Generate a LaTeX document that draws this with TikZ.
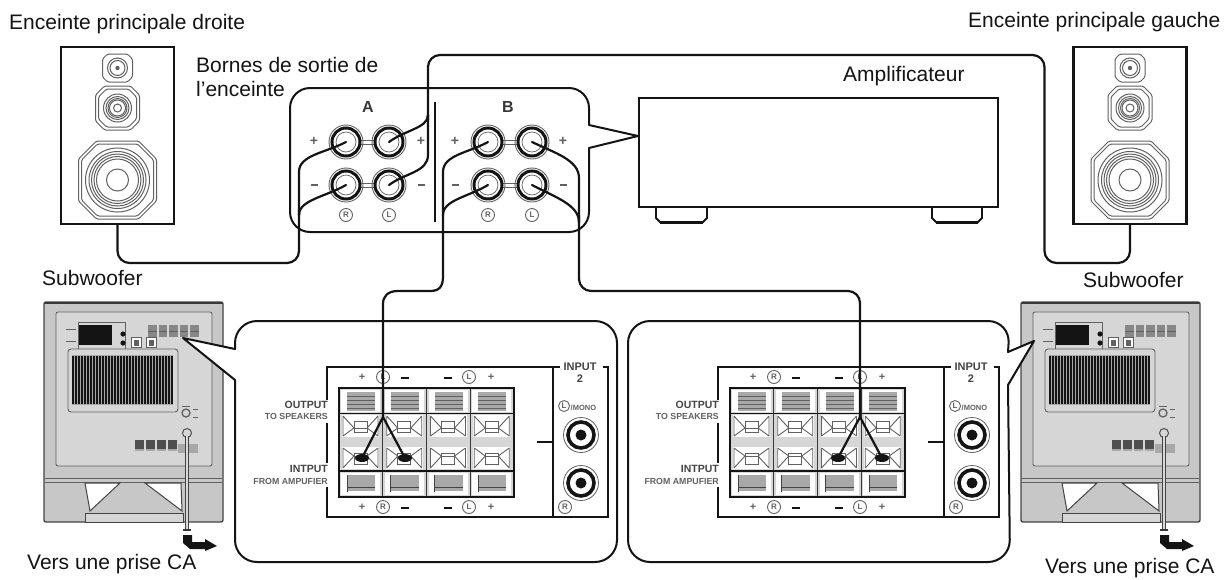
\documentclass[tikz,border=0pt]{standalone}
\usepackage{fontspec}
\setmainfont{Liberation Sans}
\usetikzlibrary{calc,shapes.geometric}
\definecolor{ink}{gray}{0.08}
\definecolor{mid}{gray}{0.38}
\definecolor{body}{gray}{0.78}
\definecolor{face}{gray}{0.84}
\definecolor{strip}{gray}{0.66}
\tikzset{
  lab/.style={anchor=base west,inner sep=0pt,font=\fontsize{21}{23}\selectfont,text=ink},
  wire/.style={draw=ink,line width=2.2pt,line join=round,line cap=round},
  panel/.style={draw=ink,line width=2pt,fill=white,line join=round},
  cone/.style={draw=mid,line width=1pt},
  tiny/.style={inner sep=0pt,text=mid,font=\fontsize{8}{8}\selectfont\bfseries},
  ring/.style={circle,draw=mid,line width=0.9pt,inner sep=0pt,minimum size=13pt,text=mid,font=\fontsize{8}{8}\selectfont\bfseries},
  sign/.style={inner sep=0pt,text=mid,font=\fontsize{14}{14}\selectfont\bfseries},
  smallsign/.style={sign,font=\fontsize{11}{11}\selectfont\bfseries},
  bold/.style={inner sep=0pt,text=mid!70!black,font=\fontsize{10.5}{11}\selectfont\bfseries},
  term/.style={circle,draw=ink,line width=3pt,minimum size=28pt,inner sep=0pt,fill=white},
  post/.style={ellipse,fill=ink,inner sep=0pt,minimum width=14pt,minimum height=8pt},
}
\newcommand{\octa}[5]{% cx cy halfw halfh cut
  \draw[cone,rounded corners=1.5pt] (#1-#3,#2-#4+#5) -- (#1-#3+#5,#2-#4) -- (#1+#3-#5,#2-#4) -- (#1+#3,#2-#4+#5) -- (#1+#3,#2+#4-#5) -- (#1+#3-#5,#2+#4) -- (#1-#3+#5,#2+#4) -- (#1-#3,#2+#4-#5) -- cycle;}
\newcommand{\speaker}[2]{% name, centre x
  \node[draw=ink,line width=2.4pt,minimum width=113pt,minimum height=177pt,inner sep=0pt] (#1) at (#2,135.5) {};
  \octa{#2}{68}{15}{14}{5}
  \draw[cone] (#2,68) circle (10);
  \draw[cone] (#2,68) circle (7.5);
  \fill[mid] (#2,68) circle (2.2);
  \octa{#2}{108}{22}{22}{9}
  \octa{#2}{108}{19}{19}{8}
  \foreach \r in {14,11.5,9.5,8,4}{\draw[cone] (#2,108) circle (\r);}
  \octa{#2}{180}{39}{39}{18}
  \octa{#2}{180}{36}{36}{16}
  \foreach \r in {32,28.5,26,23.5,21,11}{\draw[cone] (#2,180) circle (\r);}
}
\newcommand{\terminal}[3]{% name x y
  \draw[mid,line width=0.9pt] (#2,#3) circle (17);
  \node[term] (#1) at (#2,#3) {};
  \draw[mid,line width=0.7pt] (#2,#3) circle (10);
}
\newcommand{\subwoofer}[2]{% name, dx
\begin{scope}[shift={(#2,0)}]
  \node[draw=mid!70!black,line width=1.4pt,fill=body,minimum width=179pt,minimum height=220pt,inner sep=0pt,rounded corners=2pt] (#1) at (133.5,412) {};
  \draw[ink!85,line width=2.6pt] (45,303) -- (222,303);
  \draw[mid,fill=face,line width=0.9pt,rounded corners=2pt] (56,312) rectangle (212,466);
  \fill[ink] (78,325) rectangle (112,345);
  \draw[mid,line width=0.6pt] (78,322) -- (125,322) -- (125,349) -- (78,349) -- cycle;
  \draw[mid,line width=0.8pt] (66,329) -- (76,329) (66,341) -- (76,341);
  \fill[ink] (123,334) circle (2.6) (123,343) circle (2.6);
  \foreach \x in {136,151}{\draw[mid,fill=white] (\x-5,337) rectangle (\x+5,347); \fill[mid] (\x-2.5,340) rectangle (\x+2.5,346);}
  \foreach \x in {148,158.5,169,179.5,190}{\fill[strip!80!black] (\x,325) rectangle (\x+8.5,337);}
  \foreach \x in {148,158.5,169,179.5,190}{\draw[mid,line width=0.5pt] (\x,331) -- (\x+8.5,331);}
  \draw[mid,fill=face,line width=0.9pt,rounded corners=3pt] (68,349) rectangle (178,412);
  \fill[strip] (72,355) rectangle (173,405);
  \foreach \x in {73,76,...,172}{\draw[ink,line width=1.5pt] (\x,356) -- (\x,404);}
  \draw[mid,line width=1.3pt] (186,413) circle (4);
  \draw[mid,line width=0.6pt] (182,406) -- (190,406) (193,409) -- (198,409) (193,417) -- (198,417);
  \foreach \x in {135,146,157,168}{\fill[mid!80!black] (\x,440) rectangle (\x+8.5,449); \fill[strip] (\x,449) rectangle (\x+8.5,451);}
  \foreach \x in {178,189}{\fill[strip] (\x,444) rectangle (\x+9,453);}
  \draw[mid,line width=1pt] (45,478) -- (222,478) (45,482) -- (222,482);
  \draw[ink!80,line width=1pt,fill=white] (85,483) -- (120,483) -- (90,511) -- cycle;
  \draw[ink!80,line width=1pt,fill=white] (145,483) -- (181,483) -- (182,511) -- cycle;
  \draw[ink!80,line width=1pt,fill=face] (85,513) rectangle (183,522);
  \draw[ink!75,line width=1pt] (187,433) circle (4.5);
  \draw[ink!80,line width=3.2pt] (187,436) -- (187,530);
  \draw[body!70!white,line width=1.1pt] (187,436) -- (187,530);
  \draw[ink!85,line width=1.2pt] (183,530) -- (191,530);
  \fill[ink] (183,535) -- (192,535) -- (192,542) -- (205,542) -- (205,539) -- (217,546) -- (205,551) -- (205,549) -- (190,549) -- (183,543) -- cycle;
\end{scope}}
\newcommand{\block}[2]{% name, dx: terminal block with its labels
\begin{scope}[shift={(#2,0)},name prefix=#1-]
  \fill[face] (339,388) rectangle (514,497);
  \foreach \i in {0,1,2,3}{
    \pgfmathsetmacro{\c}{339+43.75*\i}
    \fill[white] (\c+2,390) rectangle (\c+41,412);
    \fill[strip] (\c+8,392) rectangle (\c+36,411);
    \foreach \yy in {396,400,...,408}{\draw[mid,line width=0.4pt] (\c+8,\yy) -- (\c+36,\yy);}
    \fill[white] (\c+2,473) rectangle (\c+41,495);
    \fill[strip] (\c+8,475) rectangle (\c+36,491);
    \draw[ink!80,line width=0.9pt] (\c+8,487) -- (\c+36,487) (\c+8,475) -- (\c+8,492);
    \foreach \yt/\yb/\ym in {415/437/428,447/469/456}{
      \fill[white] (\c+3,\yt) rectangle (\c+40,\yb);
      \draw[mid,line width=0.9pt] (\c+4,\yt+1) -- (\c+15,\ym) (\c+39,\yt+1) -- (\c+28,\ym)
        (\c+4,\yb-1) -- (\c+15,\ym) (\c+39,\yb-1) -- (\c+28,\ym)
        (\c+4,\yt+1) -- (\c+4,\yb-1) (\c+39,\yt+1) -- (\c+39,\yb-1);
      \draw[mid,line width=0.8pt,fill=white] (\c+15,\yt+6) rectangle (\c+28,\yb-5);
      \draw[mid,line width=0.6pt] (\c+15,\ym) -- (\c+28,\ym);
    }
  }
  \foreach \i in {1,2,3}{\draw[ink!85,line width=1.4pt] (339+43.75*\i,388) -- (339+43.75*\i,497);}
  \draw[ink,line width=1.2pt] (339,413.5) -- (514,413.5) (339,471) -- (514,471);
  \draw[ink,line width=2pt] (339,388) rectangle (514,497);
  \draw[ink,line width=1.8pt] (327,400) -- (327,367) -- (560,367) (603,367) -- (608,367) -- (608,517) -- (327,517) -- (327,487) (327,423) -- (327,463);
  \draw[ink,line width=1.8pt] (553,367) -- (553,517) (537,442) -- (553,442);
  \foreach \yy in {377,507}{
    \node[smallsign] (pa\yy) at (362,\yy) {+};
    \draw[ink,line width=1.1pt] (401,\yy+1) -- (409,\yy+1) (444,\yy+1) -- (452,\yy+1);
    \node[smallsign] (pb\yy) at (491,\yy) {+};
    \node[ring] (cl\yy) at (469,\yy) {L};
  }
  \draw[mid,line width=0.8pt] (581,435) circle (17.5) (581,483) circle (17.5);
  \foreach \yy in {435,483}{
    \draw[ink,line width=3.6pt] (581,\yy) circle (13);
    \fill[ink] (581,\yy) circle (5.5);
  }
  \node[ring] (jr) at (565,507) {R};
  \node[bold,align=center,font=\fontsize{11}{12.5}\selectfont\bfseries] (inp) at (580,372.5) {INPUT\\2};
  \node[ring,minimum size=11pt,anchor=east] (jl) at (570,406) {L};
  \node[tiny,anchor=west,font=\fontsize{7.5}{8}\selectfont\bfseries] (mono) at (570.5,407.5) {/MONO};
  \node[bold,anchor=east] (o1) at (328,405) {OUTPUT};
  \node[tiny,anchor=east,font=\fontsize{8.8}{9}\selectfont\bfseries] (o2) at (328,416) {TO SPEAKERS};
  \node[bold,anchor=east] (i1) at (328,469) {INTPUT};
  \node[tiny,anchor=east,font=\fontsize{8.8}{9}\selectfont\bfseries] (i2) at (328,481) {FROM AMPUFIER};
\end{scope}}
\begin{document}
\begin{tikzpicture}[x=1pt,y=-1pt]
\useasboundingbox (0,0) rectangle (1228,579);
\fill[white] (0,0) rectangle (1228,579);

% texts
\node[lab] (tDroite) at (9,29) {Enceinte principale droite};
\node[lab] (tGauche) at (968,27) {Enceinte principale gauche};
\node[lab] (tBornes) at (196,72) {Bornes de sortie de};
\node[lab] (tEnc) at (196,96) {l’enceinte};
\node[lab] (tAmp) at (843,81) {Amplificateur};
\node[lab] (tSubL) at (42,285) {Subwoofer};
\node[lab] (tSubR) at (1083,287) {Subwoofer};
\node[lab] (tPriseL) at (27,569) {Vers une prise CA};
\node[lab] (tPriseR) at (1045,573) {Vers une prise CA};

% speakers
\speaker{spkL}{117.5}
\speaker{spkR}{1130}

% amplifier
\draw[ink,line width=1.8pt,fill=white] (656,207) -- (656,218) -- (660,222) -- (703,222) -- (707,218) -- (707,207);
\draw[ink,line width=1.8pt,fill=white] (932,207) -- (932,218) -- (936,222) -- (978,222) -- (982,218) -- (982,207);
\draw[ink,line width=3pt] (660,222) -- (703,222) (936,222) -- (978,222);
\node[draw=ink,line width=2.2pt,fill=white,minimum width=359pt,minimum height=109pt,inner sep=0pt] (amp) at (818.5,152.5) {};

% speaker terminal panel
\coordinate (ampTip) at (amp.west |- 0,136);
\draw[panel] (589,125) [rounded corners=20pt] -- (589,88) -- (290,88) -- (290,232) -- (589,232) [sharp corners] -- (589,148) -- (ampTip) -- cycle;
\draw[ink,line width=1.8pt] (435,102) -- (435,222);
\node[inner sep=0pt,text=ink!85,font=\fontsize{16}{16}\selectfont\bfseries] (lA) at (368,107) {A};
\node[inner sep=0pt,text=ink!85,font=\fontsize{16}{16}\selectfont\bfseries] (lB) at (508,107) {B};
\foreach \xa/\xb in {346/389,488/532}{
  \draw[mid,line width=0.8pt] (\xa,140) -- (\xb,140) (\xa,144) -- (\xb,144) (\xa,183) -- (\xb,183) (\xa,187) -- (\xb,187);
}
\terminal{ARp}{346}{142}
\terminal{ALp}{389}{142}
\terminal{ARm}{346}{185}
\terminal{ALm}{389}{185}
\terminal{BRp}{488}{142}
\terminal{BLp}{532}{142}
\terminal{BRm}{488}{185}
\terminal{BLm}{532}{185}
\foreach \n/\x in {a/314,b/421,c/455,d/563}{\node[sign] (sp\n) at (\x,141) {+};}
\foreach \n/\x in {a/314,b/421,c/455,d/563}{\draw[mid,line width=1.8pt] (\x-3.5,185) -- (\x+3.5,185);}
\node[ring] (rA) at (346,215) {R};
\node[ring] (lAl) at (389,215) {L};
\node[ring] (rB) at (488,215) {R};
\node[ring] (lBl) at (532,215) {L};

% subwoofers
\subwoofer{subL}{0}
\subwoofer{subR}{977}

% callouts
\coordinate (tipL) at (183,338);
\coordinate (tipR) at (1034,341);
\draw[panel] (235,349) [rounded corners=22pt] -- (235,321) -- (617,321) -- (617,562) -- (235,562) [sharp corners] -- (235,380) -- (tipL) -- cycle;
\draw[panel] (1008,352) [rounded corners=22pt] -- (1010,321) -- (628,321) -- (628,562) -- (1010,562) [sharp corners] -- (1008,385) -- (tipR) -- cycle;

\block{bl}{0}
\block{br}{391}
% circled letters that differ between the blocks
\node[ring,fill=white] (ct1) at (383,377) {L};
\node[ring,fill=white] (cb1) at (383,507) {R};
\node[ring,fill=white] (ct2) at (774,377) {R};
\node[ring,fill=white] (cb2) at (774,507) {R};

% speaker posts on the subwoofers
\node[post] (pLa) at (362,458) {};
\node[post] (pLb) at (405,458) {};
\node[post] (pRa) at (838,458) {};
\node[post] (pRb) at (882,458) {};
\coordinate (forkL) at (383,417);
\coordinate (forkR) at (860,417);

% wires
\draw[wire] [rounded corners=12pt] (spkL.south) -- (117.5,263) -- (299,263) -- (299,210);
\draw[wire] (299,215) .. controls (299,200) and (325,197) .. (ARm.center);
\draw[wire] (299,215) -- (299,172) .. controls (299,155) and (325,153) .. (ARp.center);

\draw[wire] [rounded corners=12pt] (spkR.south) -- (1130,263) -- (1044.5,263) -- (1044.5,55) -- (428,55) -- (428,120);
\draw[wire] (428,115) .. controls (428,128) and (405,130) .. (ALp.center);
\draw[wire] (428,115) -- (428,155) .. controls (428,172) and (405,173) .. (ALm.center);

\draw[wire] (forkL) -- (383,304) .. controls (383,296) and (388,291) .. (398,291) -- (430,291) .. controls (440,291) and (443,286) .. (443,276) -- (443,215);
\draw[wire] (443,215) .. controls (443,200) and (468,197) .. (BRm.center);
\draw[wire] (443,215) -- (443,172) .. controls (443,155) and (468,153) .. (BRp.center);

\draw[wire] [rounded corners=12pt] (forkR) -- (860,291) -- (579,291) -- (579,215);
\draw[wire] (579,222) .. controls (579,205) and (555,197) .. (BLm.center);
\draw[wire] (579,222) -- (579,178) .. controls (579,160) and (555,153) .. (BLp.center);

\draw[wire] (forkL) -- (pLa.center);
\draw[wire] (forkL) -- (pLb.center);
\draw[wire] (forkR) -- (pRa.center);
\draw[wire] (forkR) -- (pRb.center);
\end{tikzpicture}
\end{document}
